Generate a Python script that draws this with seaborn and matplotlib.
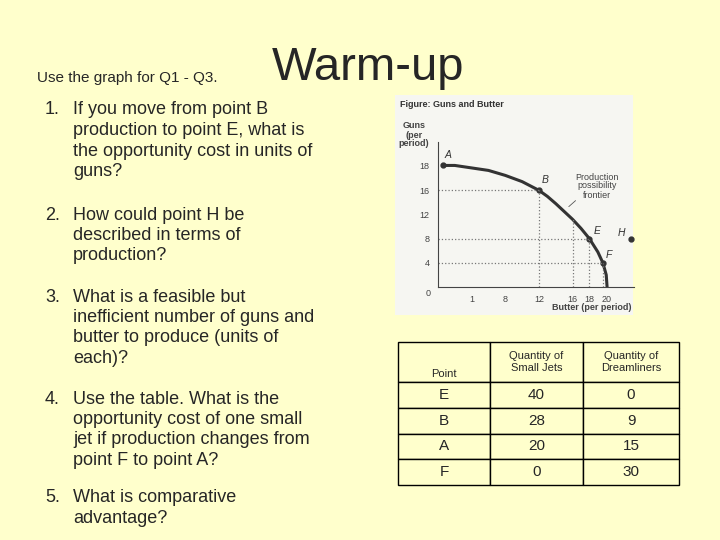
import numpy as np
import matplotlib
matplotlib.use("Agg")
import matplotlib.pyplot as plt
import seaborn as sns

sns.set_style("white")
plt.rcParams["font.family"] = ["Liberation Sans", "DejaVu Sans"]

# Data.
guns_ticks = [0, 4, 8, 12, 16, 18]
butter_ticks = [0, 4, 8, 12, 16, 18, 20]
butter_labels = ["0", "1", "8", "12", "16", "18", "20"]
curve_butter = [0.6, 2, 4, 6, 8, 10, 12, 13, 14, 15, 16, 17, 18, 19, 19.6, 20, 20.1]
curve_guns = [18, 18, 17.8, 17.6, 17.2, 16.7, 16, 15.0, 13.8, 12.5, 11.2, 9.7, 8, 5.8, 4, 2, 0]
point_names = ["A", "B", "E", "F", "H"]
point_butter = [0.6, 12, 18, 19.6, 23]
point_guns = [18, 16, 8, 4, 8]

table_header = ["Point", "Quantity of\nSmall Jets", "Quantity of\nDreamliners"]
table_points = ["E", "B", "A", "F"]
small_jets = [40, 28, 20, 0]
dreamliners = [0, 9, 15, 30]

W, H = 720, 540
fig = plt.figure(figsize=(7.2, 5.4), dpi=100)
fig.patch.set_facecolor("#ffffcc")


def px(x, y):
    return x / W, 1 - y / H


def txt(x, y, s, **kw):
    fx, fy = px(x, y)
    fig.text(fx, fy, s, **kw)


# Slide text.
txt(37, 78, "Use the graph for Q1 - Q3.", fontsize=11, va="center")
txt(272, 68, "Warm-up", fontsize=34, va="center")
questions = [
    (110, "1.", ["If you move from point B", "production to point E, what is",
                 "the opportunity cost in units of", "guns?"]),
    (215, "2.", ["How could point H be", "described in terms of", "production?"]),
    (297, "3.", ["What is a feasible but", "inefficient number of guns and",
                 "butter to produce (units of", "each)?"]),
    (399, "4.", ["Use the table. What is the", "opportunity cost of one small",
                 "jet if production changes from", "point F to point A?"]),
    (498, "5.", ["What is comparative", "advantage?"]),
]
for y0, num, lines in questions:
    txt(45, y0, num, fontsize=13, va="center")
    for i, line in enumerate(lines):
        txt(73, y0 + i * 20.5, line, fontsize=13, va="center")

# Graph background panel.
bg = fig.add_axes([395 / W, 1 - 315 / H, 238 / W, 220 / H])
bg.set_facecolor("#f6f6f2")
bg.set_xticks([])
bg.set_yticks([])
for s in bg.spines.values():
    s.set_visible(False)

# uneven guns axis: 18 sits about half a step above 16
scale_vals = [0, 4, 8, 12, 16, 18, 22]
scale_pos = [0, 1, 2, 3, 4, 5.03, 6.0]


def fwd(v):
    return np.interp(v, scale_vals, scale_pos, left=-1, right=6.5)


def inv(p):
    return np.interp(p, scale_pos, scale_vals, left=-4, right=24)


ax = fig.add_axes([438 / W, 1 - 287 / H, 196 / W, 145 / H])
ax.set_facecolor("none")
ax.set_yscale("function", functions=(fwd, inv))
ax.set_xlim(0, 23.3)
ax.set_ylim(0, 22)
sns.lineplot(x=curve_butter, y=curve_guns, ax=ax, color="#333333", lw=2.2,
             sort=False, estimator=None)
for i, n in enumerate(point_names):
    x, y = point_butter[i], point_guns[i]
    ax.plot(x, y, "o", color="#333333", ms=3.5, clip_on=False)
    if n in ["B", "E", "F"]:
        ax.plot([0, x], [y, y], ls=":", color="#777777", lw=0.9)
        ax.plot([x, x], [0, y], ls=":", color="#777777", lw=0.9)
ax.plot([16, 16], [0, 11.2], ls=":", color="#777777", lw=0.9)
offs = {"A": (0.2, 1.2), "B": (0.3, 0.6), "E": (0.5, 0.8), "F": (0.3, 0.8), "H": (-1.6, 0.5)}
for i, n in enumerate(point_names):
    dx, dy = offs[n]
    ax.text(point_butter[i] + dx, point_guns[i] + dy, n, fontsize=7.5,
            style="italic", color="#333333")
ax.set_yticks(guns_ticks)
ax.set_yticklabels([""] + [str(g) for g in guns_ticks[1:]], fontsize=6.5, color="#444444")
ax.set_xticks(butter_ticks)
ax.set_xticklabels([""] + butter_labels[1:], fontsize=6.5, color="#444444")
ax.minorticks_off()
ax.tick_params(length=3, width=0.6, color="#555555", pad=3)
for s in ["top", "right"]:
    ax.spines[s].set_visible(False)
for s in ["left", "bottom"]:
    ax.spines[s].set_color("#444444")
    ax.spines[s].set_linewidth(0.8)
ax.annotate("", xy=(15.3, 13.0), xytext=(16.6, 14.6),
            arrowprops=dict(arrowstyle="-", color="#555555", lw=0.6))

txt(400, 104, "Figure: Guns and Butter", fontsize=6.5, weight="bold", color="#333333", va="center")
txt(414, 135, "Guns\n(per\nperiod)", fontsize=6.5, weight="bold", color="#444444",
    va="center", ha="center", linespacing=1.0)
txt(428, 294, "0", fontsize=6.5, color="#444444", va="center", ha="center")
txt(597, 186, "Production\npossibility\nfrontier", fontsize=6.5, color="#444444",
    va="center", ha="center", linespacing=1.0)
txt(632, 308, "Butter (per period)", fontsize=6.5, weight="bold", color="#444444",
    va="center", ha="right")

# Table.
tab_ax = fig.add_axes([398 / W, 1 - 485 / H, 281 / W, 143 / H])
tab_ax.axis("off")
rows = [[table_points[i], str(small_jets[i]), str(dreamliners[i])] for i in range(4)]
table = tab_ax.table(cellText=rows, colLabels=table_header, cellLoc="center",
                     bbox=[0, 0, 1, 1], colWidths=[92, 93, 96])
table.auto_set_font_size(False)
for (r, c), cell in table.get_celld().items():
    cell.set_facecolor("#ffffcc")
    cell.set_edgecolor("black")
    cell.set_linewidth(1.0)
    if r == 0:
        cell.set_height(40 / 143)
        cell.get_text().set_fontsize(8)
        if c == 0:
            cell.set_text_props(text="\n\nPoint")
    else:
        cell.set_height(25.75 / 143)
        cell.get_text().set_fontsize(11)

fig.savefig("out.png", dpi=100, facecolor=fig.get_facecolor())
